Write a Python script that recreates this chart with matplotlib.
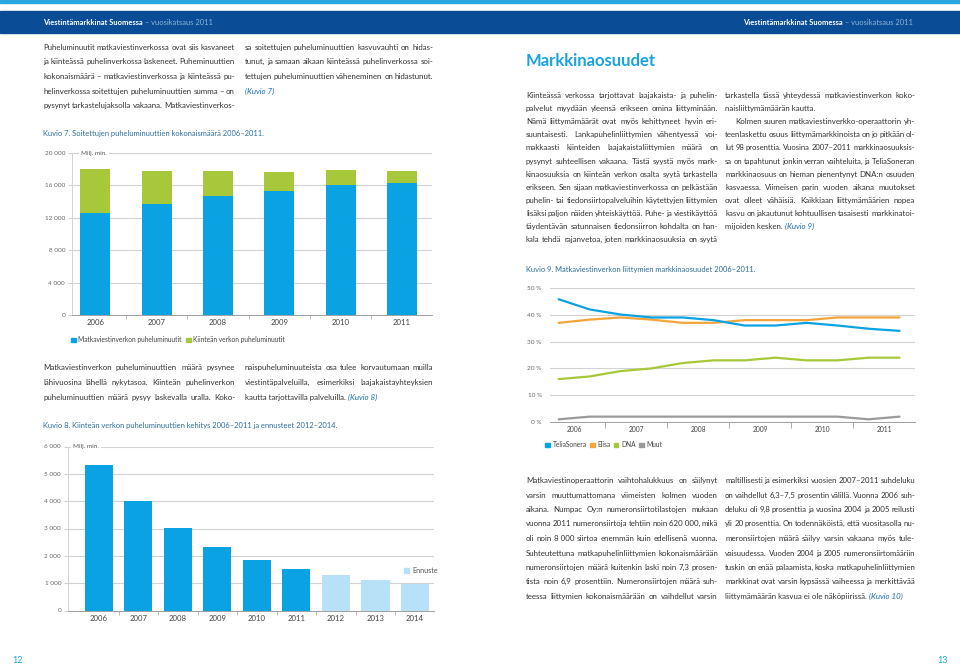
import matplotlib
matplotlib.use("Agg")
import matplotlib.pyplot as plt
from matplotlib.patches import Rectangle, Patch
import numpy as np

plt.rcParams['font.family'] = ['Lato', 'DejaVu Sans']

# --- Kuvio 7: puheluminuutit (milj. min.) ---
years7 = ['2006', '2007', '2008', '2009', '2010', '2011']
mobile_min = [12650, 13700, 14700, 15300, 16050, 16300]
fixed_min7 = [5350, 4030, 3050, 2330, 1870, 1530]

# --- Kuvio 8: kiinteän verkon puheluminuutit + ennuste ---
years8 = ['2006', '2007', '2008', '2009', '2010', '2011', '2012', '2013', '2014']
fixed_min8 = [5320, 4010, 3010, 2310, 1860, 1520, 1310, 1130, 985]
forecast_from = '2012'

# --- Kuvio 9: markkinaosuudet (%), puolivuosittain ---
years9 = ['2006', '2007', '2008', '2009', '2010', '2011']
telia = [45.8, 42.0, 40.1, 39.0, 39.0, 38.0, 36.0, 36.0, 37.0, 36.0, 34.8, 34.0]
elisa = [37.0, 38.2, 39.0, 38.2, 37.0, 37.0, 38.0, 38.0, 38.0, 39.0, 39.0, 39.0]
dna = [16.0, 17.0, 19.0, 20.0, 22.0, 23.0, 23.0, 24.0, 23.0, 23.0, 24.0, 24.0]
muut = [1.0, 2.0, 2.0, 2.0, 2.0, 2.0, 2.0, 2.0, 2.0, 2.0, 1.0, 2.0]

BLUE = '#0aa2e2'
GREEN = '#a6c83a'
LIGHT = '#b6e1f6'
ORANGE = '#f3a43b'
GREY = '#9a9a9a'
TXT = '#333333'
TITLE = '#2c6e9e'
GRID = '#d2d2d2'

BODY = 5.65
TSIZE = 5.45

W, H = 960, 666
fig = plt.figure(figsize=(W / 100, H / 100), dpi=100)
rend = fig.canvas.get_renderer()


def put(x, y, s, **kw):
    kw.setdefault('color', TXT)
    kw.setdefault('fontsize', BODY)
    kw.setdefault('va', 'baseline')
    return fig.text(x / W, 1 - round(y) / H, s, **kw)


def width(t):
    return t.get_window_extent(rend).width


def block(x0, x1, y0, dy, lines, ragged=(), indent=None):
    # justified text column: one text per word, gaps spread to the column edge
    indent = indent or {}
    for i, line in enumerate(lines):
        y = y0 + i * dy
        x = x0 + indent.get(i, 0)
        ref = None
        if '(Kuvio' in line:
            line, ref = line.split('(Kuvio')
            ref = '(Kuvio' + ref
        words = [w for w in line.split(' ') if w]
        if ref is not None or i in ragged or len(words) < 2:
            if line.strip():
                t = put(x, y, line.strip())
                x += width(t) + 2.5
            if ref:
                put(x, y, ref, color='#1a6fb0', style='italic')
            continue
        ts = [put(x, y, w) for w in words]
        ws = [width(t) for t in ts]
        n = len(words) - 1
        min_gap = 1.4
        if sum(ws) + n * min_gap > x1 - x:
            k = (x1 - x - n * min_gap) / sum(ws)
            for t in ts:
                t.set_fontsize(BODY * k)
            ws = [width(t) for t in ts]
        gap = (x1 - x - sum(ws)) / n
        cx = x
        for t, w in zip(ts, ws):
            t.set_x(cx / W)
            cx += w + gap


def axes_px(x0, y0, x1, y1):
    return fig.add_axes([x0 / W, 1 - y1 / H, (x1 - x0) / W, (y1 - y0) / H])


def style(ax):
    for s in ['top', 'right']:
        ax.spines[s].set_visible(False)
    ax.spines['left'].set_color(GRID)
    ax.spines['left'].set_linewidth(0.7)
    ax.spines['bottom'].set_color('#a0a0a0')
    ax.spines['bottom'].set_linewidth(0.7)
    ax.grid(axis='y', color=GRID, linewidth=0.8)
    ax.set_axisbelow(True)
    ax.tick_params(axis='y', labelsize=4.6, labelcolor='#666666', length=3,
                   color=GRID, pad=2)
    ax.tick_params(axis='x', length=0, labelsize=5.6, labelcolor='#444444', pad=3)
    ax.set_facecolor('none')


def thousands(v):
    return f'{int(v):,}'.replace(',', ' ')


# --- header ---
fig.patches.append(Rectangle((0, 1 - 3 / H), 1, 3 / H, transform=fig.transFigure,
                             color='#2aa7e0', zorder=0))
fig.patches.append(Rectangle((0, 1 - 33 / H), 1, 22 / H, transform=fig.transFigure,
                             color='#0a4d96', zorder=0))
t = put(43, 25, 'Viestintämarkkinat Suomessa', color='white', fontsize=5.4,
        fontweight='bold')
put(43 + width(t), 25, ' – vuosikatsaus 2011', color='#8fb3d8', fontsize=5.4)
t2 = put(913, 25, ' – vuosikatsaus 2011', color='#8fb3d8', fontsize=5.4, ha='right')
put(913 - width(t2), 25, 'Viestintämarkkinat Suomessa', color='white', fontsize=5.4,
    fontweight='bold', ha='right')

# --- left page texts ---
block(43, 235, 50, 14.5, [
    'Puheluminuutit matkaviestinverkossa ovat siis kasvaneet',
    'ja kiinteässä puhelinverkossa laskeneet. Puheminuuttien',
    'kokonaismäärä – matkaviestinverkossa ja kiinteässä pu-',
    'helinverkossa soitettujen puheluminuuttien summa – on',
    'pysynyt tarkastelujaksolla vakaana. Matkaviestinverkos-',
])
block(245, 433, 50, 14.5, [
    'sa soitettujen puheluminuuttien kasvuvauhti on hidas-',
    'tunut, ja samaan aikaan kiinteässä puhelinverkossa soi-',
    'tettujen puheluminuuttien väheneminen on hidastunut.',
    '(Kuvio 7)',
])
put(43, 136, 'Kuvio 7. Soitettujen puheluminuuttien kokonaismäärä 2006–2011.',
    color=TITLE, fontsize=TSIZE)

block(43, 235, 370, 15, [
    'Matkaviestinverkon puheluminuuttien määrä pysynee',
    'lähivuosina lähellä nykytasoa. Kiinteän puhelinverkon',
    'puheluminuuttien määrä pysyy laskevalla uralla. Koko-',
])
block(245, 433, 370, 15, [
    'naispuheluminuuteista osa tulee korvautumaan muilla',
    'viestintäpalveluilla, esimerkiksi laajakaistayhteyksien',
    'kautta tarjottavilla palveluilla. (Kuvio 8)',
])
put(43, 428, 'Kuvio 8. Kiinteän verkon puheluminuuttien kehitys 2006–2011 ja ennusteet 2012–2014.',
    color=TITLE, fontsize=TSIZE)

# --- Kuvio 7 chart ---
ax1 = axes_px(72, 153, 432, 315)
x7 = np.arange(len(years7))
ax1.bar(x7, mobile_min, width=0.49, color=BLUE, zorder=3)
ax1.bar(x7, fixed_min7, width=0.49, bottom=mobile_min, color=GREEN, zorder=3)
ax1.set_xlim(-0.38, len(years7) - 0.51)
ax1.set_ylim(0, 20000)
ax1.set_yticks(range(0, 20001, 4000))
ax1.set_yticklabels([thousands(v) for v in range(0, 20001, 4000)])
ax1.set_xticks(x7)
ax1.set_xticklabels(years7)
style(ax1)
ax1.set_xticks(x7[:-1] + 0.5, minor=True)
ax1.tick_params(axis='x', which='minor', length=3, color='#c0a8a0')
ax1.text(0.025, 1.0, 'Milj. min.', transform=ax1.transAxes, va='center', ha='left',
         fontsize=4.6, color='#555555',
         bbox=dict(fc='white', ec='none', pad=1.5))
ax1.legend(handles=[Patch(color=BLUE, label='Matkaviestinverkon puheluminuutit'),
                    Patch(color=GREEN, label='Kiinteän verkon puheluminuutit')],
           loc='upper left', bbox_to_anchor=(-0.01, -0.115), ncol=2, frameon=False,
           fontsize=4.8, handlelength=0.7, handleheight=0.7, handletextpad=0.4,
           columnspacing=0.6, borderaxespad=0, labelcolor='#444444')

# --- Kuvio 8 chart ---
ax2 = axes_px(68, 446.5, 434, 610.5)
x8 = np.arange(len(years8))
cols8 = [LIGHT if int(y) >= int(forecast_from) else BLUE for y in years8]
ax2.bar(x8, fixed_min8, width=0.71, color=cols8, zorder=3)
ax2.set_xlim(-0.78, len(years8) - 0.52)
ax2.set_ylim(0, 6000)
ax2.set_yticks(range(0, 6001, 1000))
ax2.set_yticklabels([thousands(v) for v in range(0, 6001, 1000)])
ax2.set_xticks(x8)
ax2.set_xticklabels(years8)
style(ax2)
ax2.set_xticks(x8[:-1] + 0.5, minor=True)
ax2.tick_params(axis='x', which='minor', length=3, color='#c0a8a0')
ax2.text(0.015, 1.0, 'Milj. min.', transform=ax2.transAxes, va='center', ha='left',
         fontsize=4.6, color='#555555',
         bbox=dict(fc='white', ec='none', pad=1.5))
ax2.legend(handles=[Patch(color=LIGHT, label='Ennuste')], loc='center left',
           bbox_to_anchor=(0.91, 0.245), frameon=False, fontsize=5.2,
           handlelength=0.7, handleheight=0.7, handletextpad=0.4, borderaxespad=0,
           labelcolor='#555555')

# --- right page ---
put(526, 66, 'Markkinaosuudet', color='#1ba3dd', fontsize=12, fontweight='bold')
block(526, 718, 98, 13.1, [
    'Kiinteässä verkossa tarjottavat laajakaista- ja puhelin-',
    'palvelut myydään yleensä erikseen omina liittyminään.',
    'Nämä liittymämäärät ovat myös kehittyneet hyvin eri-',
    'suuntaisesti. Lankapuhelinliittymien vähentyessä voi-',
    'makkaasti kiinteiden laajakaistaliittymien määrä on',
    'pysynyt suhteellisen vakaana. Tästä syystä myös mark-',
    'kinaosuuksia on kiinteän verkon osalta syytä tarkastella',
    'erikseen. Sen sijaan matkaviestinverkossa on pelkästään',
    'puhelin- tai tiedonsiirtopalveluihin käytettyjen liittymien',
    'lisäksi paljon näiden yhteiskäyttöä. Puhe- ja viestikäyttöä',
    'täydentävän satunnaisen tiedonsiirron kohdalta on han-',
    'kala tehdä rajanvetoa, joten markkinaosuuksia on syytä',
])
block(725, 915, 98, 13.1, [
    'tarkastella tässä yhteydessä matkaviestinverkon koko-',
    'naisliittymämäärän kautta.',
    'Kolmen suuren matkaviestinverkko-operaattorin yh-',
    'teenlaskettu osuus liittymämarkkinoista on jo pitkään ol-',
    'lut 98 prosenttia. Vuosina 2007–2011 markkinaosuuksis-',
    'sa on tapahtunut jonkin verran vaihteluita, ja TeliaSoneran',
    'markkinaosuus on hieman pienentynyt DNA:n osuuden',
    'kasvaessa. Viimeisen parin vuoden aikana muutokset',
    'ovat olleet vähäisiä. Kaikkiaan liittymämäärien nopea',
    'kasvu on jakautunut kohtuullisen tasaisesti markkinatoi-',
    'mijoiden kesken. (Kuvio 9)',
], ragged=(1,), indent={2: 10})
put(526, 272, 'Kuvio 9. Matkaviestinverkon liittymien markkinaosuudet 2006–2011.',
    color=TITLE, fontsize=TSIZE)

# --- Kuvio 9 chart ---
ax3 = axes_px(550, 288, 915, 422)
xh = np.arange(len(telia)) * 0.5 + 0.25
for vals, c in [(muut, GREY), (dna, GREEN), (elisa, ORANGE), (telia, BLUE)]:
    ax3.plot(xh, vals, color=c, linewidth=1.6, solid_joinstyle='round',
             solid_capstyle='round', zorder=3)
ax3.set_xlim(0.11, len(years9))
ax3.set_ylim(0, 50)
ax3.set_yticks(range(0, 51, 10))
ax3.set_yticklabels([f'{v} %' for v in range(0, 51, 10)])
ax3.set_xticks(np.arange(len(years9)) + 0.5)
ax3.set_xticklabels(years9)
style(ax3)
ax3.spines['left'].set_visible(False)
ax3.tick_params(axis='y', length=0, pad=6)
ax3.tick_params(axis='x', labelsize=4.8, pad=3)
ax3.set_xticks(np.arange(1, len(years9)), minor=True)
ax3.tick_params(axis='x', which='minor', length=4, color='#a0a0a0')
ax3.legend(handles=[Patch(color=BLUE, label='TeliaSonera'),
                    Patch(color=ORANGE, label='Elisa'),
                    Patch(color=GREEN, label='DNA'),
                    Patch(color=GREY, label='Muut')],
           loc='upper left', bbox_to_anchor=(-0.02, -0.125), ncol=4, frameon=False,
           fontsize=4.8, handlelength=0.7, handleheight=0.7, handletextpad=0.4,
           columnspacing=0.5, borderaxespad=0, labelcolor='#444444')

block(526, 718, 483, 14.5, [
    'Matkaviestinoperaattorin vaihtohalukkuus on säilynyt',
    'varsin muuttumattomana viimeisten kolmen vuoden',
    'aikana. Numpac Oy:n numeronsiirtotilastojen mukaan',
    'vuonna 2011 numeronsiirtoja tehtiin noin 620\u00a0000, mikä',
    'oli noin 8\u00a0000 siirtoa enemmän kuin edellisenä vuonna.',
    'Suhteutettuna matkapuhelinliittymien kokonaismäärään',
    'numeronsiirtojen määrä kuitenkin laski noin 7,3 prosen-',
    'tista noin 6,9 prosenttiin. Numeronsiirtojen määrä suh-',
    'teessa liittymien kokonaismäärään on vaihdellut varsin',
])
block(725, 915, 483, 14.5, [
    'maltillisesti ja esimerkiksi vuosien 2007–2011 suhdeluku',
    'on vaihdellut 6,3–7,5 prosentin välillä. Vuonna 2006 suh-',
    'deluku oli 9,8 prosenttia ja vuosina 2004 ja 2005 reilusti',
    'yli 20 prosenttia. On todennäköistä, että vuositasolla nu-',
    'meronsiirtojen määrä säilyy varsin vakaana myös tule-',
    'vaisuudessa. Vuoden 2004 ja 2005 numeronsiirtomääriin',
    'tuskin on enää palaamista, koska matkapuhelinliittymien',
    'markkinat ovat varsin kypsässä vaiheessa ja merkittävää',
    'liittymämäärän kasvua ei ole näköpiirissä. (Kuvio 10)',
])

# page numbers
put(12, 663, '12', color='#1ba3dd', fontsize=6.5)
put(948, 663, '13', color='#1ba3dd', fontsize=6.5, ha='right')

fig.savefig('out.png', dpi=100)
